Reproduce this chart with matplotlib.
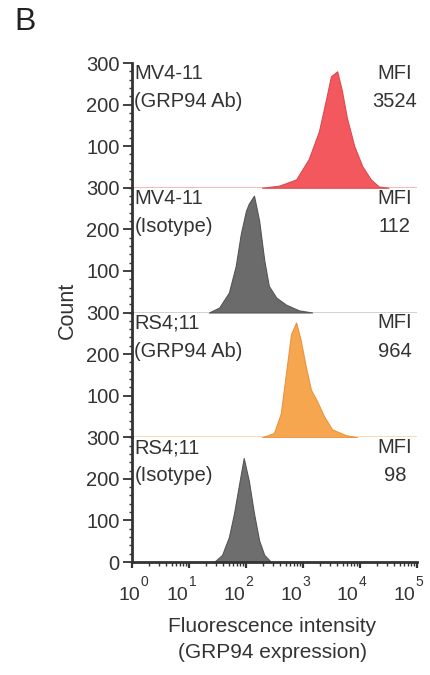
import matplotlib
matplotlib.use("Agg")
import matplotlib.pyplot as plt
from matplotlib.ticker import FixedLocator, NullFormatter, LogLocator
from matplotlib.transforms import offset_copy
import numpy as np

plt.rcParams['font.family'] = ['Liberation Sans', 'DejaVu Sans']

# ---- data (log10 fluorescence, count) ----
sample_names = ["MV4-11", "MV4-11", "RS4;11", "RS4;11"]
sample_stains = ["(GRP94 Ab)", "(Isotype)", "(GRP94 Ab)", "(Isotype)"]
mfi_values = ["3524", "112", "964", "98"]

mv411_ab_log = [2.28, 2.58, 2.88, 3.10, 3.28, 3.40, 3.49, 3.60, 3.68, 3.77, 3.90, 4.04, 4.19, 4.33, 4.50]
mv411_ab_cnt = [0, 5, 20, 69, 136, 210, 268, 280, 235, 168, 100, 52, 20, 3, 0]

mv411_iso_log = [1.35, 1.53, 1.70, 1.82, 1.91, 2.00, 2.05, 2.14, 2.23, 2.32, 2.40, 2.53, 2.70, 2.93, 3.16]
mv411_iso_cnt = [0, 12, 48, 112, 190, 245, 262, 281, 221, 126, 64, 36, 19, 5, 0]

rs411_ab_log = [2.28, 2.49, 2.61, 2.70, 2.79, 2.88, 2.96, 3.05, 3.14, 3.25, 3.37, 3.51, 3.75, 3.95]
rs411_ab_cnt = [0, 10, 57, 152, 248, 276, 233, 169, 114, 86, 50, 19, 5, 0]

rs411_iso_log = [1.44, 1.58, 1.70, 1.79, 1.88, 1.96, 2.05, 2.14, 2.23, 2.32, 2.44]
rs411_iso_cnt = [0, 17, 60, 117, 188, 250, 195, 117, 52, 17, 0]

series = [(mv411_ab_log, mv411_ab_cnt), (mv411_iso_log, mv411_iso_cnt),
          (rs411_ab_log, rs411_ab_cnt), (rs411_iso_log, rs411_iso_cnt)]
fill_colors = ["#f2585e", "#6b6b6b", "#f7a650", "#6e6e6e"]
edge_colors = ["#dc4a50", "#555555", "#eb933e", "#555555"]
base_colors = ["#f2a4a4", "#c4c4c4", "#f7cfa6", None]

xtick_exps = ["0", "1", "2", "3", "4", "5"]
xtick_dx_px = [8, -1, -1, -1, -2, -2]   # label placement offsets (layout only)

# ---- layout ----
W, H = 430, 675
fig = plt.figure(figsize=(W / 100, H / 100), dpi=100)
left, right = 132 / W, 417 / W
top_px, bot_px = 63, 562
ph = (bot_px - top_px) / 4 / H
axis_col = "#333333"
txt_col = "#333333"
fs = 14.5
px = 0.72  # points per pixel

axes = []
for i in range(4):
    b = 1 - (top_px / H) - ph * (i + 1)
    ax = fig.add_axes([left, b, right - left, ph])
    axes.append(ax)
    ax.set_xscale('log')
    ax.set_xlim(1, 1e5)
    ax.set_ylim(0, 300)
    ax.patch.set_alpha(0)
    for s in ['top', 'right']:
        ax.spines[s].set_visible(False)
    ax.spines['left'].set_linewidth(2.0)
    ax.spines['left'].set_color(axis_col)
    lx, ly = series[i]
    xv = [10 ** v for v in lx]
    ax.fill_between(xv, ly, 0, color=fill_colors[i], edgecolor=edge_colors[i], linewidth=0.8, zorder=2)
    if i < 3:
        ax.spines['bottom'].set_visible(False)
        ax.axhline(0, color=base_colors[i], linewidth=1.8, zorder=1)
        ax.set_yticks([100, 200, 300])
        ax.tick_params(axis='x', which='both', bottom=False, labelbottom=False)
    else:
        ax.spines['bottom'].set_linewidth(2.0)
        ax.spines['bottom'].set_color(axis_col)
        ax.set_yticks([0, 100, 200, 300])
        ax.xaxis.set_major_locator(FixedLocator([1, 10, 100, 1e3, 1e4, 1e5]))
        ax.xaxis.set_major_formatter(NullFormatter())
        ax.xaxis.set_minor_locator(LogLocator(base=10, subs=np.arange(2, 10), numticks=20))
        ax.xaxis.set_minor_formatter(NullFormatter())
        ax.tick_params(axis='x', which='major', length=4.5, width=1.6, color=axis_col)
        ax.tick_params(axis='x', which='minor', length=3.0, width=1.0, color=axis_col)
        # tick labels "10" with raised exponent
        for k, e in enumerate(xtick_exps):
            dx = xtick_dx_px[k]
            tr = offset_copy(ax.get_xaxis_transform(), fig=fig, x=dx * px, y=-34 * px, units='points')
            ax.text(10 ** k, 0, "10", transform=tr, fontsize=14, color=txt_col,
                    ha='right', va='center')
            tr2 = offset_copy(ax.get_xaxis_transform(), fig=fig, x=(dx + 0.5) * px, y=-20 * px, units='points')
            ax.text(10 ** k, 0, e, transform=tr2, fontsize=10, color=txt_col,
                    ha='left', va='center')
    ax.yaxis.set_minor_locator(FixedLocator(np.arange(0, 301, 20)))
    ax.tick_params(axis='y', which='major', length=6.5, width=1.3, color=axis_col,
                   labelsize=fs, labelcolor=txt_col, pad=2.5)
    ax.tick_params(axis='y', which='minor', length=2.5, width=1.0, color=axis_col)

    ax.text(1.1, 275, sample_names[i], fontsize=fs, color=txt_col, ha='left', va='center')
    ax.text(1.1, 207, sample_stains[i], fontsize=fs, color=txt_col, ha='left', va='center')
    ax.text(10 ** 4.61, 275, "MFI", fontsize=fs, color=txt_col, ha='center', va='center')
    ax.text(10 ** 4.61, 207, mfi_values[i], fontsize=fs, color=txt_col, ha='center', va='center')

fig.text(25 / W, 1 - 22 / H, "B", fontsize=23, color="#222222", ha='center', va='center')
fig.text(67 / W, 1 - 310 / H, "Count", fontsize=15.5, color=txt_col, rotation=90, ha='center', va='center')
fig.text(272 / W, 1 - 627 / H, "Fluorescence intensity", fontsize=15, color=txt_col, ha='center', va='center')
fig.text(272 / W, 1 - 652 / H, "(GRP94 expression)", fontsize=15, color=txt_col, ha='center', va='center')

fig.savefig("out.png", dpi=100)
